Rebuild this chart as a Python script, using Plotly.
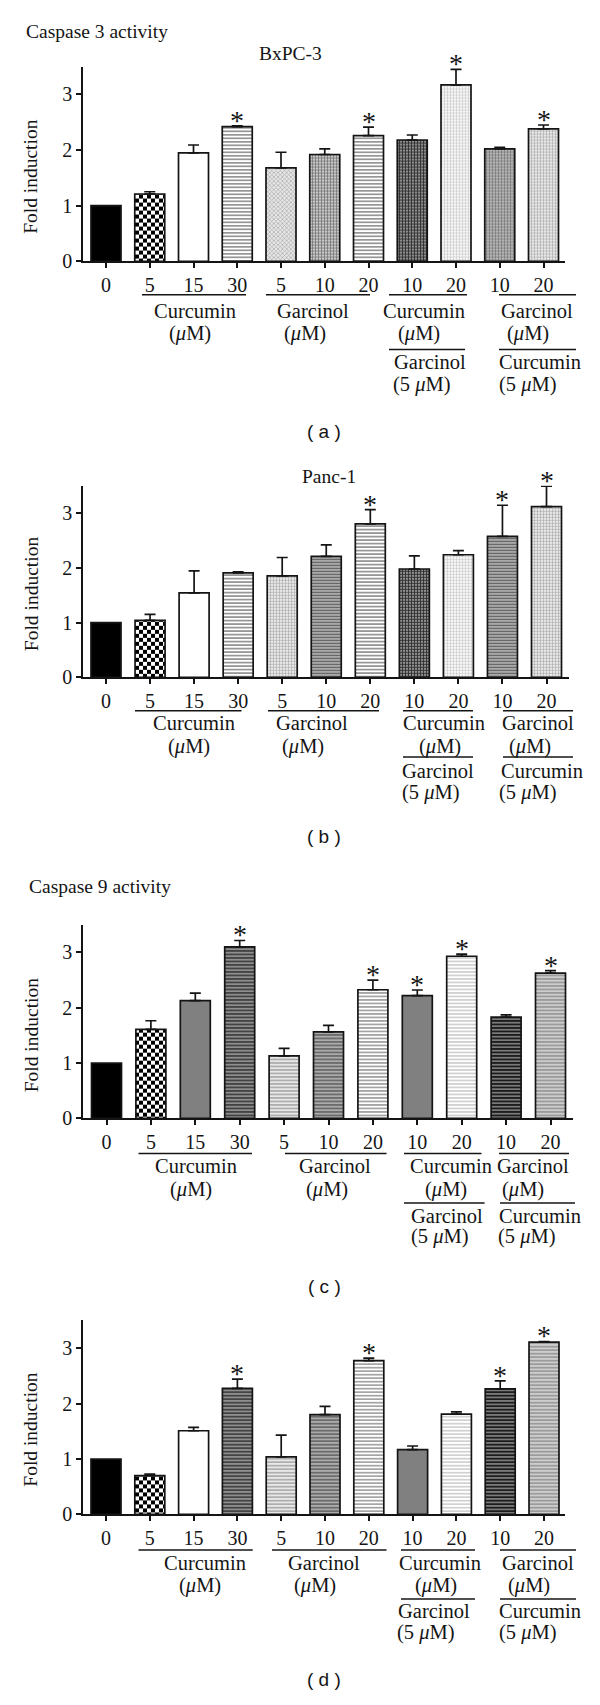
import plotly.graph_objects as go

# ---------------- data ----------------
tick_labels = ["0", "5", "15", "30", "5", "10", "20", "10", "20", "10", "20"]

a_vals = [1.00, 1.21, 1.95, 2.42, 1.68, 1.92, 2.26, 2.18, 3.17, 2.02, 2.38]
a_err = [0.0, 0.04, 0.14, 0.015, 0.28, 0.10, 0.15, 0.09, 0.28, 0.03, 0.07]
a_sig = [0, 0, 0, 1, 0, 0, 1, 0, 1, 0, 1]

b_vals = [1.00, 1.04, 1.545, 1.91, 1.855, 2.21, 2.805, 1.98, 2.24, 2.575, 3.12]
b_err = [0.0, 0.11, 0.40, 0.02, 0.335, 0.21, 0.26, 0.24, 0.075, 0.57, 0.375]
b_sig = [0, 0, 0, 0, 0, 0, 1, 0, 0, 1, 1]

c_vals = [1.00, 1.61, 2.13, 3.10, 1.13, 1.565, 2.325, 2.22, 2.93, 1.83, 2.625]
c_err = [0.0, 0.155, 0.135, 0.115, 0.135, 0.115, 0.175, 0.10, 0.04, 0.04, 0.045]
c_sig = [0, 0, 0, 1, 0, 0, 1, 1, 1, 0, 1]

d_vals = [1.00, 0.70, 1.51, 2.275, 1.04, 1.80, 2.775, 1.17, 1.81, 2.265, 3.11]
d_err = [0.0, 0.03, 0.06, 0.165, 0.39, 0.15, 0.045, 0.065, 0.04, 0.145, 0.01]
d_sig = [0, 0, 0, 1, 0, 0, 1, 0, 0, 1, 1]

group_row1 = ["Curcumin", "Garcinol", "Curcumin", "Garcinol"]
group_row2 = ["(<i>μ</i>M)", "(<i>μ</i>M)", "(<i>μ</i>M)", "(<i>μ</i>M)"]
combo_row3 = ["Garcinol", "Curcumin"]
combo_row4 = ["(5 <i>μ</i>M)", "(5 <i>μ</i>M)"]

# ---------------- styles ----------------
W, H = 600, 1705
SERIF = "Liberation Serif"
SANS = "Liberation Sans"
INK = "#141414"
CHECK = "rgb(1, 2, 3)"  # placeholder colour replaced by a checkerboard pattern in the page
TICK_SIZE = 20
LABEL_SIZE = 20.5
TITLE_SIZE = 19.5

# kind -> (fill colour, pattern shape, fg, bg, size, solidity)
STYLES = {
    "black": ("black", "", None, None, None, None),
    "check": (CHECK, "", None, None, None, None),
    "white": ("white", "", None, None, None, None),
    "grey": ("#808080", "", None, None, None, None),
    "hlines": ("white", "-", "#8a8a8a", "white", 3.5, 0.45),
    "lightx": ("#dddddd", "x", "#a0a0a0", "#e6e6e6", 3, 0.35),
    "grayplus": ("#b8b8b8", "+", "#6a6a6a", "#c8c8c8", 3, 0.4),
    "darkplus": ("#808080", "+", "#2e2e2e", "#8e8e8e", 3, 0.5),
    "vlightplus": ("white", "+", "#c4c4c4", "#f7f7f7", 3, 0.35),
    "graydot": ("#aaaaaa", "+", "#6e6e6e", "#b4b4b4", 3, 0.35),
    "lightdot": ("#e0e0e0", "+", "#a4a4a4", "#e8e8e8", 3, 0.35),
    "graylines": ("#b0b0b0", "-", "#5e5e5e", "#b8b8b8", 3, 0.45),
    "darkstripe": ("#8a8a8a", "-", "#3a3a3a", "#8e8e8e", 3.5, 0.45),
    "lightstripe": ("#e6e6e6", "-", "#a8a8a8", "#e8e8e8", 3.5, 0.45),
    "medstripe": ("#aaaaaa", "-", "#646464", "#ababab", 3.5, 0.45),
    "whitestripe": ("white", "-", "#9a9a9a", "white", 3.5, 0.45),
    "vlightstripe": ("white", "-", "#cccccc", "white", 3.5, 0.45),
    "blackstripe": ("#777777", "-", "#1c1c1c", "#7a7a7a", 3.5, 0.5),
    "mlightstripe": ("#cccccc", "-", "#959595", "#cdcdcd", 3.5, 0.45),
}

styles_a = ["black", "check", "white", "hlines", "lightx", "grayplus", "hlines",
            "darkplus", "vlightplus", "graydot", "lightdot"]
styles_b = ["black", "check", "white", "hlines", "lightdot", "graylines", "hlines",
            "darkplus", "vlightplus", "graylines", "lightdot"]
styles_c = ["black", "check", "grey", "darkstripe", "lightstripe", "medstripe", "whitestripe",
            "grey", "vlightstripe", "blackstripe", "mlightstripe"]
styles_d = ["black", "check", "white", "darkstripe", "lightstripe", "medstripe", "whitestripe",
            "grey", "vlightstripe", "blackstripe", "mlightstripe"]

# panel geometry in pixels: axis x start/end, baseline y, top(3.5) y, first bar centre, bar spacing
panels = [
    dict(vals=a_vals, err=a_err, sig=a_sig, sty=styles_a, x0=83, x1=565, yb=263.0, yt=67.0, c0=106.0, s=43.75,
         rows=[284, 296.7, 313, 336, 351.7, 364, 387],
         g=[(142, 246, 195, 190), (266, 370, 313, 305), (389, 467, 424, 419), (499, 576, 537, 528)],
         g2=[(389, 465, 430, 422), (499, 576, 540, 528)],
         tag="( a )", tag_y=434, ytitle_y=178),
    dict(vals=b_vals, err=b_err, sig=b_sig, sty=styles_b, x0=83, x1=569, yb=681.7, yt=489.0, c0=106.0, s=44.05,
         rows=[702.7, 715.3, 728, 751.7, 762, 776, 798],
         g=[(135, 241.5, 193.5, 188.5), (268, 379, 312, 303), (403, 473, 444, 440), (503, 573, 538, 530)],
         g2=[(403, 473, 438, 431), (503, 573, 541.5, 528)],
         tag="( b )", tag_y=842, ytitle_y=598),
    dict(vals=c_vals, err=c_err, sig=c_sig, sty=styles_c, x0=83, x1=573, yb=1125.7, yt=930.7, c0=106.5, s=44.4,
         rows=[1146, 1161, 1173.3, 1197.3, 1210.7, 1224, 1245],
         g=[(138.5, 252, 196, 191), (285, 386.5, 335, 327), (404, 481.5, 451, 446), (499, 569, 533, 523)],
         g2=[(404, 484.6, 447, 440), (500, 575, 540, 527)],
         tag="( c )", tag_y=1295, ytitle_y=1042),
    dict(vals=d_vals, err=d_err, sig=d_sig, sty=styles_d, x0=83, x1=565, yb=1524.3, yt=1329.0, c0=106.0, s=43.8,
         rows=[1545, 1560, 1573.3, 1596, 1609.3, 1621.7, 1643.3],
         g=[(138.5, 252.7, 205, 200), (272, 386.5, 324, 315), (401, 475, 440, 436), (500, 576, 538, 529)],
         g2=[(401, 475, 434, 426), (500, 576, 540, 528)],
         tag="( d )", tag_y=1690, ytitle_y=1439),
]


def px(x):
    return x / W


def py(y):
    return 1 - y / H


def label(x, y, text, family=SERIF, size=LABEL_SIZE, **kw):
    d = dict(x=px(x), y=py(y), xref="paper", yref="paper", text=text, showarrow=False,
             xanchor="center", yanchor="middle", font=dict(family=family, size=size, color=INK))
    d.update(kw)
    return d


fig = go.Figure()
annotations = []
shapes = []

for i, p in enumerate(panels):
    n = i + 1
    xa = "x" if n == 1 else f"x{n}"
    ya = "y" if n == 1 else f"y{n}"
    xs = list(range(len(p["vals"])))
    for j in xs:
        col, shp, fg, bg, sz, sol = STYLES[p["sty"][j]]
        marker = dict(color=col, line=dict(color=INK, width=1.7))
        if shp:
            marker["pattern"] = dict(shape=shp, fgcolor=fg, bgcolor=bg, size=sz,
                                     solidity=sol, fillmode="replace")
        fig.add_trace(go.Bar(
            x=[xs[j]], y=[p["vals"][j]], xaxis=xa, yaxis=ya, width=30 / p["s"],
            marker=marker,
            error_y=dict(type="data", symmetric=False, array=[p["err"][j]], arrayminus=[0],
                         color=INK, thickness=1.7, width=5.5, visible=p["err"][j] > 0),
            showlegend=False, hoverinfo="skip",
        ))
    rng = [(p["x0"] - p["c0"]) / p["s"], (p["x1"] - p["c0"]) / p["s"]]
    sfx = "" if n == 1 else str(n)
    fig.layout["xaxis" + sfx] = dict(
        domain=[px(p["x0"]), px(p["x1"])], range=rng, anchor=ya,
        tickmode="array", tickvals=xs, ticktext=tick_labels,
        ticks="outside", ticklen=5, tickwidth=1.6, tickcolor=INK,
        showline=True, linewidth=1.7, linecolor=INK, showgrid=False, zeroline=False,
        tickfont=dict(family=SERIF, size=TICK_SIZE, color=INK), fixedrange=True,
    )
    fig.layout["yaxis" + sfx] = dict(
        domain=[py(p["yb"]), py(p["yt"])], range=[0, 3.5], anchor=xa,
        tickmode="array", tickvals=[0, 1, 2, 3],
        ticks="outside", ticklen=5, tickwidth=1.6, tickcolor=INK,
        showline=True, linewidth=1.7, linecolor=INK, showgrid=False, zeroline=False,
        tickfont=dict(family=SERIF, size=TICK_SIZE, color=INK), fixedrange=True,
    )
    # significance asterisks
    for j, (v, e, s) in enumerate(zip(p["vals"], p["err"], p["sig"])):
        if s:
            annotations.append(dict(x=j, y=v + e, xref=xa, yref=ya, text="*", showarrow=False,
                                    xanchor="center", yanchor="bottom", yshift=-12,
                                    font=dict(family=SERIF, size=28, color=INK)))
    # y axis title
    annotations.append(label(31, p["ytitle_y"], "Fold induction", size=TITLE_SIZE, textangle=-90))
    # group labels
    rows = p["rows"]
    for k, (l0, l1, t1, t2) in enumerate(p["g"]):
        shapes.append(dict(type="line", xref="paper", yref="paper", x0=px(l0), x1=px(l1),
                           y0=py(rows[1]), y1=py(rows[1]), line=dict(color=INK, width=1.5)))
        annotations.append(label(t1, rows[2], group_row1[k]))
        annotations.append(label(t2, rows[3], group_row2[k]))
    for k, (l0, l1, t3, t4) in enumerate(p["g2"]):
        shapes.append(dict(type="line", xref="paper", yref="paper", x0=px(l0), x1=px(l1),
                           y0=py(rows[4]), y1=py(rows[4]), line=dict(color=INK, width=1.5)))
        annotations.append(label(t3, rows[5], combo_row3[k]))
        annotations.append(label(t4, rows[6], combo_row4[k]))
    # panel tag
    annotations.append(label(324, p["tag_y"], p["tag"], family=SANS, size=19))

# titles
annotations.append(label(24, 32, "Caspase 3 activity", size=TITLE_SIZE, xanchor="left"))
annotations.append(label(290, 54, "BxPC-3", size=TITLE_SIZE))
annotations.append(label(329, 480, "Panc-1", size=TITLE_SIZE))
annotations.append(label(27, 892, "Caspase 9 activity", size=TITLE_SIZE, xanchor="left"))

fig.update_layout(width=W, height=H, margin=dict(l=0, r=0, t=0, b=0),
                  paper_bgcolor="white", plot_bgcolor="white", barmode="overlay",
                  annotations=annotations, shapes=shapes)

post = """
document.body.style.margin = '0';
document.body.style.padding = '0';
var gd = document.getElementById('{plot_id}');
function applyChecker(){
  var svg = gd.querySelector('svg.main-svg');
  if(!svg) return;
  var ns = 'http://www.w3.org/2000/svg';
  if(!document.getElementById('checkerpat')){
    var defs = svg.querySelector('defs');
    if(!defs){ defs = document.createElementNS(ns,'defs'); svg.insertBefore(defs, svg.firstChild); }
    var pat = document.createElementNS(ns,'pattern');
    pat.setAttribute('id','checkerpat');
    pat.setAttribute('patternUnits','userSpaceOnUse');
    pat.setAttribute('width','8'); pat.setAttribute('height','8');
    var r = document.createElementNS(ns,'rect');
    r.setAttribute('x','0'); r.setAttribute('y','0'); r.setAttribute('width','8'); r.setAttribute('height','8');
    r.setAttribute('fill','white'); pat.appendChild(r);
    [[0,0],[4,4]].forEach(function(c){
      var q = document.createElementNS(ns,'rect');
      q.setAttribute('x',c[0]); q.setAttribute('y',c[1]); q.setAttribute('width','4'); q.setAttribute('height','4');
      q.setAttribute('fill','black'); pat.appendChild(q);
    });
    defs.appendChild(pat);
  }
  gd.querySelectorAll('.barlayer path').forEach(function(el){
    if(el.style.fill === 'rgb(1, 2, 3)'){ el.style.fill = 'url(#checkerpat)'; }
  });
}
applyChecker();
gd.on('plotly_afterplot', applyChecker);
"""

fig.write_html("out.html", post_script=post, config={"displayModeBar": False})
